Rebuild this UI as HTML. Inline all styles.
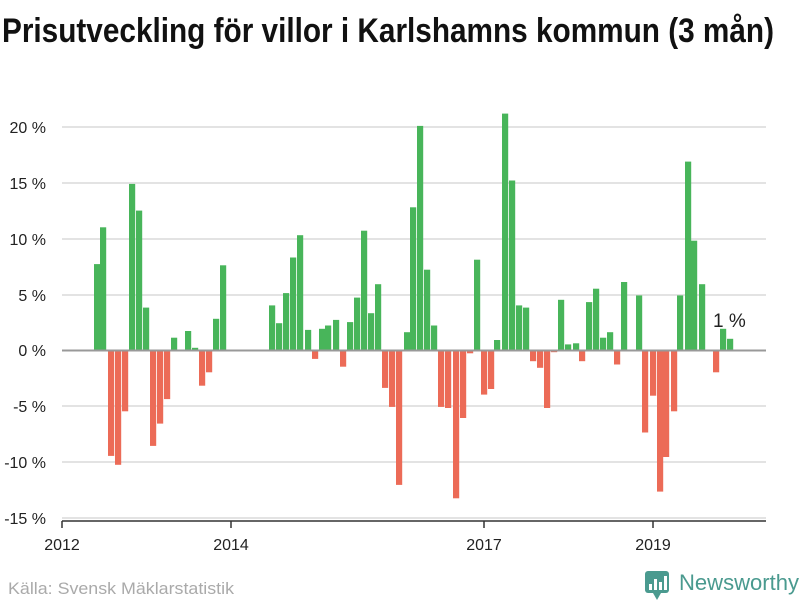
<!DOCTYPE html><html><head><meta charset="utf-8"><style>
body{margin:0;background:#fff;width:800px;height:600px;overflow:hidden;font-family:"Liberation Sans",sans-serif}
</style></head><body>
<svg width="800" height="600" xmlns="http://www.w3.org/2000/svg">
<text x="2" y="42" font-family="Liberation Sans" font-weight="bold" font-size="34" textLength="772" lengthAdjust="spacingAndGlyphs" fill="#111">Prisutveckling för villor i Karlshamns kommun (3 mån)</text>
<g stroke="#e3e3e3" stroke-width="2">
<line x1="62" x2="766" y1="127" y2="127"/><line x1="62" x2="766" y1="183" y2="183"/><line x1="62" x2="766" y1="239" y2="239"/><line x1="62" x2="766" y1="295" y2="295"/><line x1="62" x2="766" y1="406" y2="406"/><line x1="62" x2="766" y1="462" y2="462"/><line x1="62" x2="766" y1="518" y2="518"/>
</g>
<g font-size="16" fill="#222" text-anchor="end">
<text x="46" y="133">20 %</text><text x="46" y="189">15 %</text><text x="46" y="245">10 %</text><text x="46" y="301">5 %</text><text x="46" y="356">0 %</text><text x="46" y="412">-5 %</text><text x="46" y="468">-10 %</text><text x="46" y="524">-15 %</text>
</g>
<g fill="#48b55a">
<rect x="94" y="264.1" width="6.2" height="85.9"/>
<rect x="100" y="227.3" width="6.2" height="122.7"/>
<rect x="129" y="183.9" width="6.2" height="166.1"/>
<rect x="136" y="210.6" width="6.2" height="139.4"/>
<rect x="143" y="307.6" width="6.2" height="42.4"/>
<rect x="171" y="337.7" width="6.2" height="12.3"/>
<rect x="185" y="331" width="6.2" height="19"/>
<rect x="192" y="347.8" width="6.2" height="2.2"/>
<rect x="213" y="318.8" width="6.2" height="31.2"/>
<rect x="220" y="265.3" width="6.2" height="84.7"/>
<rect x="269" y="305.4" width="6.2" height="44.6"/>
<rect x="276" y="323.2" width="6.2" height="26.8"/>
<rect x="283" y="293.1" width="6.2" height="56.9"/>
<rect x="290" y="257.5" width="6.2" height="92.5"/>
<rect x="297" y="235.2" width="6.2" height="114.8"/>
<rect x="305" y="329.9" width="6.2" height="20.1"/>
<rect x="319" y="328.8" width="6.2" height="21.2"/>
<rect x="325" y="325.5" width="6.2" height="24.5"/>
<rect x="333" y="319.9" width="6.2" height="30.1"/>
<rect x="347" y="322.1" width="6.2" height="27.9"/>
<rect x="354" y="297.6" width="6.2" height="52.4"/>
<rect x="361" y="230.7" width="6.2" height="119.3"/>
<rect x="368" y="313.2" width="6.2" height="36.8"/>
<rect x="375" y="284.2" width="6.2" height="65.8"/>
<rect x="404" y="332.2" width="6.2" height="17.8"/>
<rect x="410" y="207.3" width="6.2" height="142.7"/>
<rect x="417" y="125.9" width="6.2" height="224.1"/>
<rect x="424" y="269.7" width="6.2" height="80.3"/>
<rect x="431" y="325.5" width="6.2" height="24.5"/>
<rect x="474" y="259.7" width="6.2" height="90.3"/>
<rect x="494" y="340" width="6.2" height="10"/>
<rect x="502" y="113.6" width="6.2" height="236.4"/>
<rect x="509" y="180.5" width="6.2" height="169.5"/>
<rect x="516" y="305.4" width="6.2" height="44.6"/>
<rect x="523" y="307.6" width="6.2" height="42.4"/>
<rect x="558" y="299.8" width="6.2" height="50.2"/>
<rect x="565" y="344.4" width="6.2" height="5.6"/>
<rect x="573" y="343.3" width="6.2" height="6.7"/>
<rect x="586" y="302.1" width="6.2" height="47.9"/>
<rect x="593" y="288.7" width="6.2" height="61.3"/>
<rect x="600" y="337.7" width="6.2" height="12.3"/>
<rect x="607" y="332.2" width="6.2" height="17.8"/>
<rect x="621" y="282" width="6.2" height="68"/>
<rect x="636" y="295.4" width="6.2" height="54.6"/>
<rect x="677" y="295.4" width="6.2" height="54.6"/>
<rect x="685" y="161.6" width="6.2" height="188.4"/>
<rect x="691" y="240.7" width="6.2" height="109.3"/>
<rect x="699" y="284.2" width="6.2" height="65.8"/>
<rect x="720" y="328.8" width="6.2" height="21.2"/>
<rect x="727" y="338.8" width="6.2" height="11.2"/>
</g>
<g fill="#ec6b57">
<rect x="108" y="350" width="6.2" height="105.9"/>
<rect x="115" y="350" width="6.2" height="114.8"/>
<rect x="122" y="350" width="6.2" height="61.3"/>
<rect x="150" y="350" width="6.2" height="95.9"/>
<rect x="157" y="350" width="6.2" height="73.6"/>
<rect x="164" y="350" width="6.2" height="49.1"/>
<rect x="199" y="350" width="6.2" height="35.7"/>
<rect x="206" y="350" width="6.2" height="22.3"/>
<rect x="312" y="350" width="6.2" height="8.9"/>
<rect x="340" y="350" width="6.2" height="16.7"/>
<rect x="382" y="350" width="6.2" height="37.9"/>
<rect x="389" y="350" width="6.2" height="56.9"/>
<rect x="396" y="350" width="6.2" height="134.9"/>
<rect x="438" y="350" width="6.2" height="56.9"/>
<rect x="445" y="350" width="6.2" height="58"/>
<rect x="453" y="350" width="6.2" height="148.3"/>
<rect x="460" y="350" width="6.2" height="68"/>
<rect x="467" y="350" width="6.2" height="3.3"/>
<rect x="481" y="350" width="6.2" height="44.6"/>
<rect x="488" y="350" width="6.2" height="39"/>
<rect x="530" y="350" width="6.2" height="11.2"/>
<rect x="537" y="350" width="6.2" height="17.8"/>
<rect x="544" y="350" width="6.2" height="58"/>
<rect x="551" y="350" width="6.2" height="2.2"/>
<rect x="579" y="350" width="6.2" height="11.2"/>
<rect x="614" y="350" width="6.2" height="14.5"/>
<rect x="642" y="350" width="6.2" height="82.5"/>
<rect x="650" y="350" width="6.2" height="45.7"/>
<rect x="657" y="350" width="6.2" height="141.6"/>
<rect x="663" y="350" width="6.2" height="107"/>
<rect x="671" y="350" width="6.2" height="61.3"/>
<rect x="713" y="350" width="6.2" height="22.3"/>
</g>
<line x1="62" x2="766" y1="350.5" y2="350.5" stroke="#999" stroke-width="2"/>
<line x1="62" x2="766" y1="521" y2="521" stroke="#333" stroke-width="1.5"/>
<g stroke="#333" stroke-width="1.5"><line x1="62" x2="62" y1="521" y2="528"/><line x1="231" x2="231" y1="521" y2="528"/><line x1="484" x2="484" y1="521" y2="528"/><line x1="653" x2="653" y1="521" y2="528"/></g>
<g font-size="16" fill="#222" text-anchor="middle"><text x="62" y="550">2012</text><text x="231" y="550">2014</text><text x="484" y="550">2017</text><text x="653" y="550">2019</text></g>
<text x="713" y="327" font-size="19" fill="#222">1 %</text>
<text x="8" y="594" font-size="17" fill="#aaa" textLength="226" lengthAdjust="spacingAndGlyphs">Källa: Svensk Mäklarstatistik</text>
<g><rect x="645" y="571" width="24" height="22" rx="3" fill="#4a9a8f"/><polygon points="653,593 657,600 661,593" fill="#4a9a8f"/>
<rect x="649" y="584" width="3" height="6" fill="#fff"/><rect x="654" y="579" width="3" height="11" fill="#fff"/><rect x="659" y="582" width="3" height="8" fill="#fff"/><rect x="664" y="576" width="3" height="14" fill="#fff"/></g>
<text x="679" y="590" font-size="22" fill="#4a9a8f" textLength="120" lengthAdjust="spacingAndGlyphs">Newsworthy</text>
</svg>
</body></html>
